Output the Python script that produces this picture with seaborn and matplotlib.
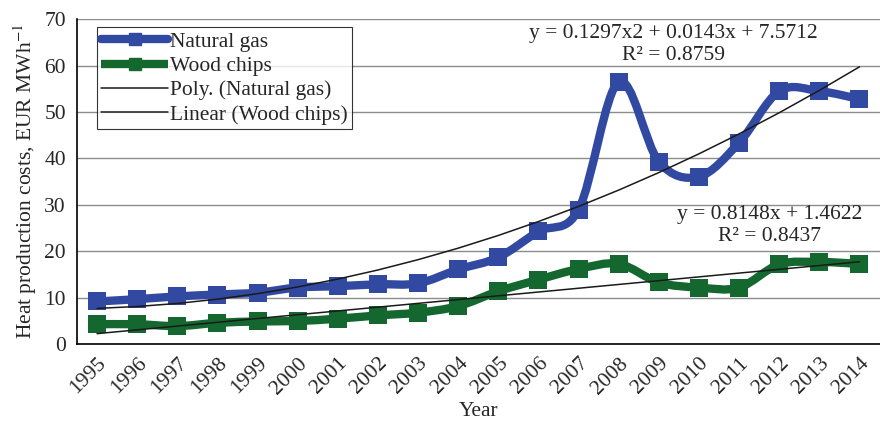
import numpy as np
import pandas as pd
import matplotlib
matplotlib.use('Agg')
import matplotlib.pyplot as plt
from matplotlib.path import Path
from matplotlib.patches import PathPatch
from matplotlib.lines import Line2D
import seaborn as sns

# Data
years = [str(y) for y in range(1995, 2015)]
natural_gas = [9.2, 9.7, 10.3, 10.7, 11.1, 12.2, 12.5, 12.9, 13.1, 16.1,
               18.7, 24.3, 29.0, 56.5, 39.3, 36.1, 43.4, 54.5, 54.5, 52.8]
wood_chips = [4.3, 4.3, 3.9, 4.6, 4.9, 5.0, 5.5, 6.2, 6.8, 8.2,
              11.4, 13.9, 16.2, 17.3, 13.3, 12.2, 12.2, 17.2, 17.7, 17.3]

# Trendline equations as printed on the chart (x = 1..20)
poly_coef = [0.1297, 0.0143, 7.5712]
lin_coef = [0.8148, 1.4622]
poly_label = "y = 0.1297x2 + 0.0143x + 7.5712\nR\u00b2 = 0.8759"
lin_label = "y = 0.8148x + 1.4622\nR\u00b2 = 0.8437"

BLUE = '#3249A1'
GREEN = '#14672F'
FS = 15.5

df = pd.DataFrame({'Year': years, 'Natural gas': natural_gas, 'Wood chips': wood_chips})
df['pos'] = np.arange(len(years))


def smooth_path(xs, ys):
    """Excel-like smoothed line as cubic Bezier path (Catmull-Rom control points)."""
    pts = np.column_stack([xs, ys]).astype(float)
    n = len(pts)
    verts = [pts[0]]
    codes = [Path.MOVETO]
    for i in range(n - 1):
        p0 = pts[i - 1] if i > 0 else pts[i]
        p1 = pts[i]
        p2 = pts[i + 1]
        p3 = pts[i + 2] if i + 2 < n else pts[i + 1]
        c1 = p1 + (p2 - p0) / 6.0
        c2 = p2 - (p3 - p1) / 6.0
        verts += [c1, c2, p2]
        codes += [Path.CURVE4] * 3
    return Path(verts, codes)


sns.set_style('white')
plt.rcParams['font.family'] = ['Liberation Serif', 'DejaVu Serif']
plt.rcParams['mathtext.fontset'] = 'stix'

fig = plt.figure(figsize=(8.8, 4.26), dpi=100)
ax = fig.add_axes([0.0875, 0.192, 0.912, 0.763])

ax.set_xlim(-0.5, len(years) - 0.5)
ax.set_ylim(0, 70)
ax.set_yticks(range(0, 71, 10))
ax.yaxis.grid(True, color='#8c8c8c', linewidth=1.0)
ax.set_axisbelow(True)

for col, color in [('Natural gas', BLUE), ('Wood chips', GREEN)]:
    path = smooth_path(df['pos'], df[col])
    ax.add_patch(PathPatch(path, facecolor='none', edgecolor=color,
                           linewidth=6, capstyle='round', joinstyle='round', zorder=3))
    sns.scatterplot(data=df, x='pos', y=col, marker='s', s=150, color=color,
                    edgecolor=color, linewidth=0, ax=ax, zorder=4, legend=False)

# trendlines
tx = np.arange(1, len(years) + 1)
ax.plot(df['pos'], np.polyval(poly_coef, tx), color='#1a1a1a', linewidth=1.1, zorder=5)
ax.plot(df['pos'], np.polyval(lin_coef, tx), color='#1a1a1a', linewidth=1.1, zorder=5)

ax.text(14.36, 69.0, poly_label, ha='center', va='top', fontsize=FS, linespacing=1.2)
ax.text(16.76, 30.0, lin_label, ha='center', va='top', fontsize=FS, linespacing=1.2)

# axes styling
for side in ['top', 'right']:
    ax.spines[side].set_visible(False)
ax.spines['left'].set_color('black')
ax.spines['left'].set_linewidth(1.2)
ax.spines['bottom'].set_color('black')
ax.spines['bottom'].set_linewidth(1.2)

ax.set_xticks(np.arange(len(years)))
ax.set_xticklabels(years, rotation=45, ha='right', rotation_mode='anchor', fontsize=FS)
ax.set_xticks(np.arange(-0.5, len(years), 1), minor=True)
ax.tick_params(axis='x', which='major', length=0, pad=7)
ax.tick_params(axis='x', which='minor', length=5, width=1, color='#555555', direction='out')
ax.tick_params(axis='y', length=5, width=1, color='#555555', direction='out', labelsize=FS, pad=3)
ax.set_xlabel('Year', fontsize=FS, labelpad=3)
ax.set_ylabel('Heat production costs, EUR MWh$^{-1}$', fontsize=FS, labelpad=4)

handles = [
    Line2D([], [], color=BLUE, linewidth=6, marker='s', markersize=8, solid_capstyle='round'),
    Line2D([], [], color=GREEN, linewidth=6, marker='s', markersize=8, solid_capstyle='butt'),
    Line2D([], [], color='#1a1a1a', linewidth=1.1),
    Line2D([], [], color='#1a1a1a', linewidth=1.1),
]
labels = ['Natural gas', 'Wood chips', 'Poly. (Natural gas)', 'Linear (Wood chips)']
leg = ax.legend(handles, labels, loc='upper left', bbox_to_anchor=(0.025, 0.975),
                fontsize=FS, frameon=True, fancybox=False, edgecolor='black',
                borderpad=0.2, labelspacing=0.2, handlelength=3.1, handletextpad=0.1,
                borderaxespad=0)
leg.get_frame().set_linewidth(0.8)

fig.savefig('out.png', dpi=100)
